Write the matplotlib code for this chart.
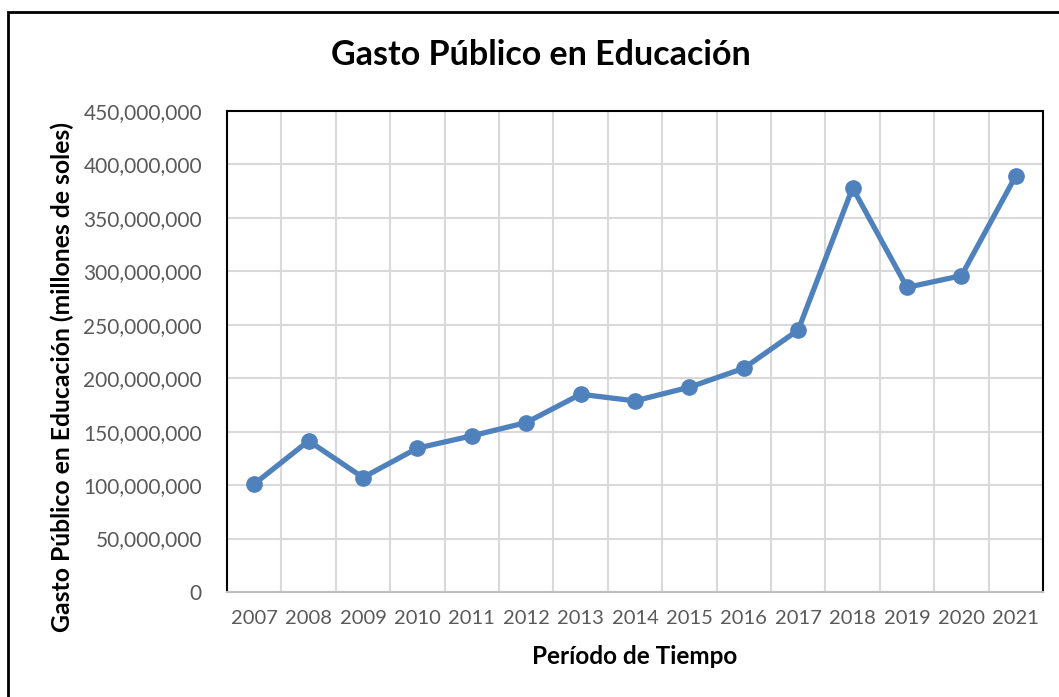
import matplotlib.pyplot as plt
from matplotlib.ticker import FuncFormatter, MultipleLocator
from matplotlib.patches import Rectangle

# Data
years = ['2007', '2008', '2009', '2010', '2011', '2012', '2013', '2014',
         '2015', '2016', '2017', '2018', '2019', '2020', '2021']
gasto = [101.0e6, 141.4e6, 107.1e6, 134.6e6, 146.1e6, 158.5e6, 185.0e6, 178.8e6,
         191.6e6, 209.3e6, 245.1e6, 378.1e6, 285.0e6, 295.9e6, 389.3e6]

plt.rcParams['font.family'] = ['Lato', 'DejaVu Sans']

fig = plt.figure(figsize=(10.59, 6.97), dpi=100)
ax = fig.add_axes([227/1059, 1 - 592/697, (1043 - 227)/1059, (592 - 111)/697])

x = list(range(len(years)))
ax.plot(x, gasto, color='#4F81BD', linewidth=3.8, marker='o', markersize=11,
        solid_capstyle='round', zorder=3)

ax.set_xlim(-0.5, len(years) - 0.5)
ax.set_ylim(0, 450e6)
ax.yaxis.set_major_locator(MultipleLocator(50e6))
ax.yaxis.set_major_formatter(FuncFormatter(lambda v, p: f'{int(v):,}'))
ax.set_xticks(x)
ax.set_xticklabels(years)
ax.set_xticks([i + 0.5 for i in x[:-1]], minor=True)

ax.grid(axis='y', which='major', color='#D9D9D9', linewidth=1.5)
ax.grid(axis='x', which='minor', color='#D9D9D9', linewidth=1.5)
ax.set_axisbelow(True)
ax.tick_params(axis='both', which='both', length=0)
ax.tick_params(axis='y', pad=18, labelsize=15, labelcolor='#595959')
ax.tick_params(axis='x', pad=13, labelsize=14.5, labelcolor='#595959')

for s in ['left', 'top', 'right']:
    ax.spines[s].set_color('black')
    ax.spines[s].set_linewidth(1.5)
ax.spines['bottom'].set_color('#BFBFBF')
ax.spines['bottom'].set_linewidth(1.5)

fig.text(541/1059, 1 - 55/697, 'Gasto Público en Educación', fontsize=24.5,
         fontweight='bold', ha='center', va='center')
ax.set_xlabel('Período de Tiempo', fontsize=17.5, fontweight='bold', labelpad=13)
fig.text(62/1059, 1 - 377/697, 'Gasto Público en Educación (millones de soles)',
         fontsize=17.8, fontweight='bold', rotation=90, ha='center', va='center')

# chart border (cropped on the right and bottom)
fig.patches.append(Rectangle((8/1059, -0.1), 1.2, 1 - 12/697 + 0.1,
                             transform=fig.transFigure, fill=False,
                             edgecolor='black', linewidth=2, clip_on=False))

fig.savefig('out.png', dpi=100)
